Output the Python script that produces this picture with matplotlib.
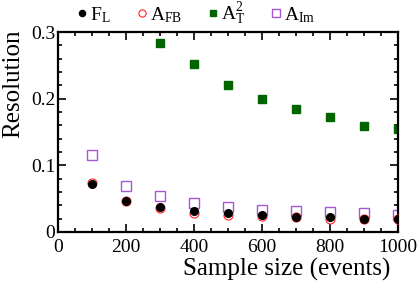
import numpy as np
import matplotlib.pyplot as plt
from matplotlib.ticker import MultipleLocator

plt.rcParams['font.family'] = ['Liberation Serif', 'DejaVu Serif']
plt.rcParams['mathtext.fontset'] = 'custom'
plt.rcParams['mathtext.rm'] = 'Liberation Serif'
plt.rcParams['mathtext.it'] = 'Liberation Serif'

# sample sizes (events)
sizes = np.array([100, 200, 300, 400, 500, 600, 700, 800, 900, 1000])
sizes_T = np.array([300, 400, 500, 600, 700, 800, 900, 1000])

# resolution for each method
res_FL = [0.072, 0.047, 0.038, 0.032, 0.028, 0.025, 0.023, 0.022, 0.020, 0.019]
res_FB = [0.074, 0.046, 0.036, 0.029, 0.026, 0.024, 0.022, 0.020, 0.020, 0.019]
res_T2 = [0.283, 0.252, 0.221, 0.200, 0.185, 0.173, 0.159, 0.154]
res_Im = [0.115, 0.069, 0.054, 0.044, 0.038, 0.033, 0.031, 0.030, 0.028, 0.025]

fig = plt.figure(figsize=(4.19, 2.84), dpi=100)
ax = fig.add_axes([58/419, 1 - 232/284, 340/419, 200/284])

ax.plot(sizes, res_FB, 'o', ms=6.5, mfc='none', mec='#ff2020', mew=0.8, label=r'A$_{\rm FB}$', zorder=3)
ax.plot(sizes, res_FL, 'o', ms=5.5, color='black', label=r'F$_{\rm L}$', zorder=4)
ax.plot(sizes_T, res_T2, 's', ms=5.5, color='#006400', label=r'A$_{\rm T}^{2}$')
ax.plot(sizes, res_Im, 's', ms=6.5, mfc='none', mec='#a855d8', mew=1.0, label=r'A$_{\rm Im}$')

ax.set_xlim(0, 1000)
ax.set_ylim(0, 0.3)
ax.xaxis.set_major_locator(MultipleLocator(200))
ax.xaxis.set_minor_locator(MultipleLocator(50))
ax.yaxis.set_minor_locator(MultipleLocator(0.02))
ax.set_yticks([0, 0.1, 0.2, 0.3])
ax.set_yticklabels(['0', '0.1', '0.2', '0.3'])
ax.tick_params(which='both', direction='in', top=True, right=True, labelsize=14, width=1.2)
ax.tick_params(which='major', length=6, pad=2)
ax.tick_params(axis='x', which='major', pad=5)
ax.tick_params(which='minor', length=3)
for s in ax.spines.values():
    s.set_linewidth(1.6)

ax.set_xlabel('Sample size (events)', fontsize=18)
ax.xaxis.set_label_coords(0.674, -0.13)
ax.set_ylabel('Resolution', fontsize=18)
ax.yaxis.set_label_coords(-0.1, 0.74)

h, l = ax.get_legend_handles_labels()
order = [1, 0, 2, 3]
ax.legend([h[i] for i in order], [l[i] for i in order], ncol=4, frameon=False,
          loc='lower left', bbox_to_anchor=(0.032, 0.985), fontsize=14, markerscale=0.8,
          handletextpad=0.1, columnspacing=1.3, borderaxespad=0.0, handlelength=0.6)

fig.savefig('out.png', dpi=100)
